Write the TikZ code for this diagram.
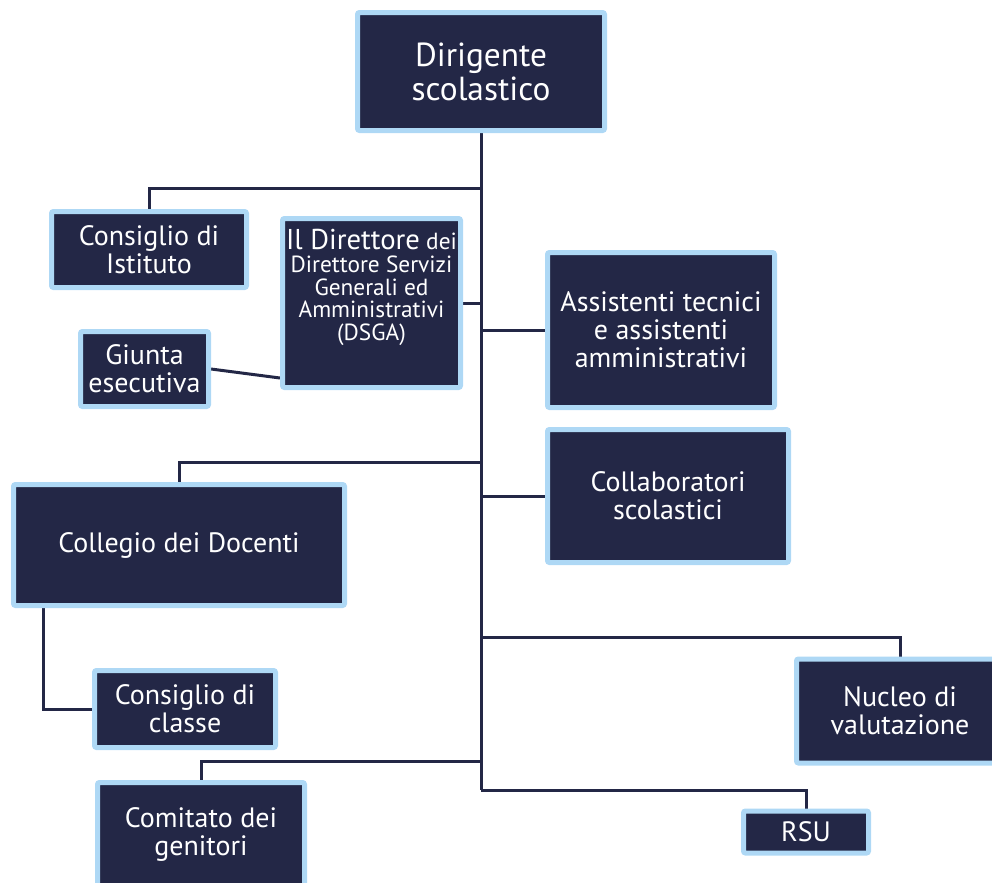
\documentclass[tikz,border=0pt]{standalone}
\usepackage{fontspec}
\setmainfont{PT Sans}
\usepackage{tikz}
\usetikzlibrary{backgrounds}

\definecolor{navy}{RGB}{35,39,70}
\definecolor{paleblue}{RGB}{174,216,245}

\tikzset{
  box/.style={rectangle, draw=paleblue, fill=navy, line width=3.75pt, rounded corners=1.5pt,
    text=white, align=center, inner sep=0pt, font=\fontsize{21}{21}\selectfont},
  link/.style={draw=navy, line width=2.25pt}
}

\begin{document}
\begin{tikzpicture}[x=0.75pt, y=-0.75pt]
    \useasboundingbox (0,0) rectangle (992,882);
    \clip (0,0) rectangle (992,882);

    \node[box, minimum width=185.25pt, minimum height=88.5pt, font=\fontsize{25}{25.5}\selectfont] (dirigente) at (481,71.5) {Dirigente\\scolastico};
    \node[box, minimum width=146.25pt, minimum height=57pt] (consIstituto) at (149,249.5) {Consiglio di\\Istituto};
    \node[box, minimum width=133.5pt, minimum height=126.75pt] (dsga) at (371.5,303) {};
    \node[text=white, align=center, inner sep=0pt, anchor=north, font=\fontsize{17.5}{17}\selectfont] (dsgaText) at ([yshift=-10pt]dsga.north)
        {{\fontsize{21.5}{21}\selectfont Il Direttore} dei\\Direttore Servizi\\Generali ed\\Amministrativi\\(DSGA)};
    \node[box, minimum width=96pt, minimum height=56.25pt] (giunta) at (144.5,369) {Giunta\\esecutiva};
    \node[box, minimum width=170.25pt, minimum height=116.25pt] (assistenti) at (661,330) {Assistenti tecnici\\e assistenti\\amministrativi};
    \node[box, minimum width=180.75pt, minimum height=99.75pt] (collaboratori) at (668,496) {Collaboratori\\scolastici};
    \node[box, minimum width=248.25pt, minimum height=90.75pt] (collegio) at (179,545) {Collegio dei Docenti};
    \node[box, minimum width=135.75pt, minimum height=57.75pt] (consClasse) at (185,709) {Consiglio di\\classe};
    \node[box, minimum width=155.25pt, minimum height=78pt] (nucleo) at (900,711) {Nucleo di\\valutazione};
    \node[box, minimum width=155.25pt, minimum height=77.25pt] (comitato) at (201,834) {Comitato dei\\genitori};
    \node[box, minimum width=93.75pt, minimum height=31.5pt] (rsu) at (806,832) {RSU};

    \coordinate (trunkEnd) at (481,790);
    \coordinate (forkIstituto) at (481,188);
    \coordinate (forkCollegio) at (481,462);
    \coordinate (forkNucleo) at (481,637);
    \coordinate (forkComitato) at (481,761);
    \coordinate (giuntaEnd) at (280,378);

    \begin{scope}[on background layer]
        \draw[link] (dirigente.south) -- (trunkEnd);
        \draw[link] (forkIstituto) -| (consIstituto.north);
        \draw[link] (dsga.east) -- (dsga.east -| trunkEnd);
        \draw[link] (assistenti.west) -- (assistenti.west -| trunkEnd);
        \draw[link] (giunta.east) -- (giuntaEnd);
        \draw[link] (forkCollegio) -| (collegio.north);
        \draw[link] (collaboratori.west) -- (collaboratori.west -| trunkEnd);
        \draw[link] ([xshift=24pt]collegio.south west) |- (consClasse.west);
        \draw[link] (forkNucleo) -| (nucleo.north);
        \draw[link] (forkComitato) -| (comitato.north);
        \draw[link] (trunkEnd) -| (rsu.north);
    \end{scope}
\end{tikzpicture}
\end{document}
